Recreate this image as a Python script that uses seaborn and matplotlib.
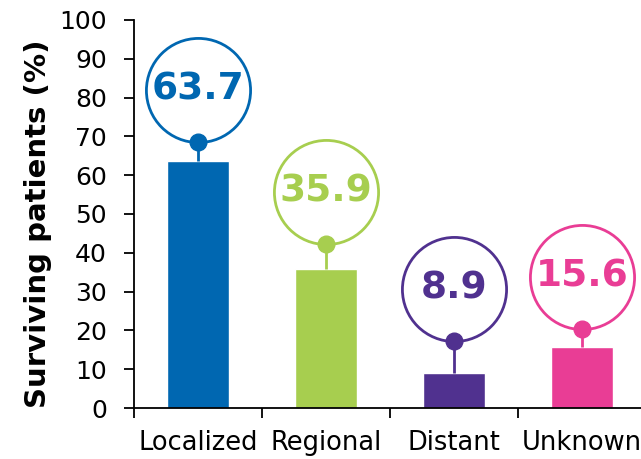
import matplotlib
matplotlib.use("Agg")
import matplotlib.pyplot as plt
import matplotlib.transforms as mtransforms
import seaborn as sns
import pandas as pd

# Survival by stage at diagnosis
categories = ["Localized", "Regional", "Distant", "Unknown"]
survival = [63.7, 35.9, 8.9, 15.6]
colors = ["#0067B1", "#A7CE4F", "#50318F", "#E93D95"]
value_labels = ["63.7", "35.9", "8.9", "15.6"]
yticks = [0, 10, 20, 30, 40, 50, 60, 70, 80, 90, 100]

# Callout layout: stem length above each bar (axis units) and bubble radius (points)
stem_len = [4.9, 6.4, 8.4, 4.8]
bubble_radius_pt = 37.5

sns.set_theme(style="white")
plt.rcParams["font.family"] = ["DejaVu Sans"]

df = pd.DataFrame({"stage": categories, "pct": survival})

fig = plt.figure(figsize=(6.41, 4.59), dpi=100)
ax = fig.add_axes([134 / 641, 51 / 459, 512 / 641, 388 / 459])

sns.barplot(data=df, x="stage", y="pct", hue="stage", palette=colors,
            width=0.49, saturation=1, legend=False, ax=ax)

ax.set_xlim(-0.5, 3.5)
ax.set_ylim(0, 100)
ax.set_yticks(yticks)
ax.set_yticklabels([str(t) for t in yticks], fontsize=18, color="black")
ax.set_xticks(range(len(categories)))
ax.set_xticklabels(categories, fontsize=18.5, color="black")
ax.set_xticks([-0.5, 0.5, 1.5, 2.5, 3.5], minor=True)
ax.tick_params(axis="x", which="major", length=0, pad=16)
ax.tick_params(axis="x", which="minor", length=7.5, width=1.3, direction="out",
               color="black", bottom=True)
ax.tick_params(axis="y", which="major", length=7.5, width=1.3, direction="out",
               pad=12, color="black", left=True)
ax.set_xlabel("")
ax.set_ylabel("Surviving patients (%)", fontsize=21, fontweight="bold", color="black")
ax.yaxis.set_label_coords(-0.1875, 0.474)
ax.yaxis.label.set_verticalalignment("center")

for side in ["top", "right"]:
    ax.spines[side].set_visible(False)
for side in ["left", "bottom"]:
    ax.spines[side].set_color("black")
    ax.spines[side].set_linewidth(1.3)

up = mtransforms.offset_copy(ax.transData, fig=fig, y=bubble_radius_pt, units="points")

for i, (v, s, c, lab) in enumerate(zip(survival, stem_len, colors, value_labels)):
    tip = v + s
    ax.plot([i, i], [v, tip], color=c, lw=2.0, zorder=3, solid_capstyle="butt")
    ax.plot([i], [tip], marker="o", ms=2 * bubble_radius_pt, mfc="white",
            mec=c, mew=2.0, transform=up, zorder=4, clip_on=False)
    ax.plot([i], [tip], marker="o", ms=12, color=c, zorder=5, clip_on=False)
    ax.text(i, tip, lab, transform=up, ha="center", va="center",
            fontsize=27, fontweight="bold", color=c, zorder=6)

fig.savefig("out.png", dpi=100)
